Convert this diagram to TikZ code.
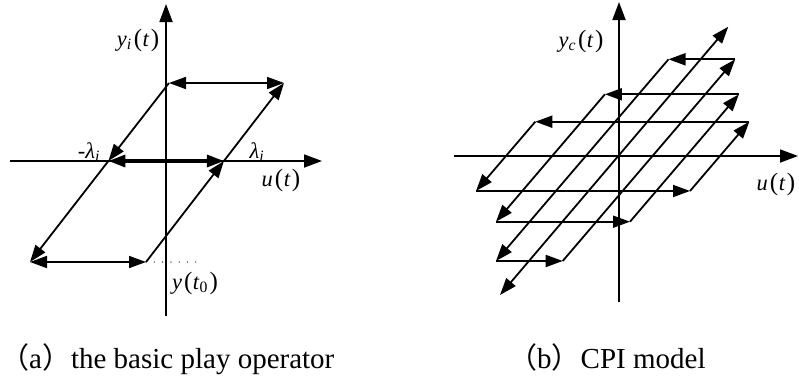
\documentclass[tikz,border=0pt]{standalone}
\usepackage{fontspec}
\setmainfont{Liberation Serif}
\newfontfamily\cjk{Noto Sans CJK SC}
\usetikzlibrary{arrows.meta}
\newcommand{\plp}{\kern2pt{\fontsize{25}{25}\selectfont(}\kern0.5pt}
\newcommand{\prp}{\kern1.5pt{\fontsize{25}{25}\selectfont)}}
\begin{document}
\begin{tikzpicture}[x=1pt,y=-1pt,
  ln/.style={line width=1.8pt},
  ar/.style={-{Triangle[length=17pt,width=12pt]}},
  axar/.style={-{Triangle[length=18pt,width=13pt]}},
  dar/.style={{Triangle[length=17pt,width=12pt]}-{Triangle[length=17pt,width=12pt]}},
  lab/.style={font=\fontsize{22.5}{27}\selectfont, inner sep=0pt},
  captxt/.style={font=\fontsize{29}{33}\selectfont, inner sep=0pt, anchor=base west}]
\useasboundingbox (0,0) rectangle (799,383);
% ---------- left diagram ----------
\coordinate (ya1) at (166,316); \coordinate (yb1) at (166,4);
\coordinate (xa1) at (10,161);  \coordinate (xb1) at (322,161);
\coordinate (TL) at (169,83);   \coordinate (TR) at (284,83);
\coordinate (BL) at (30,262);   \coordinate (BR) at (146,262);
\coordinate (L) at (108.4,161); \coordinate (R) at (223.9,161);
\coordinate (dotE) at (200,262);
\draw[ln,axar] (ya1) -- (yb1);
\draw[ln,axar] (xa1) -- (xb1);
\draw[line width=3.2pt,dar] (L) -- (R);
\draw[ln,dar] (TL) -- (TR);
\draw[ln,dar] (BL) -- (BR);
\draw[ln,ar] (TL) -- (L);
\draw[ln,ar] (L) -- (BL);
\draw[ln,ar] (BR) -- (R);
\draw[ln,ar] (R) -- (TR);
\draw[line width=1.3pt,line cap=round,dash pattern=on 0pt off 8.3pt] (BR) -- (dotE);
\node[lab] (lyi) at (138,40) {\textit{y}\textsubscript{\textit{i}}\plp\textit{t}\prp};
\node[lab] (lml) at (89,152) {-\textit{λ}\textsubscript{\textit{i}}};
\node[lab] (ll) at (257,152) {\textit{λ}\textsubscript{\textit{i}}};
\node[lab] (lu1) at (281,180) {\textit{u}\plp\textit{t}\prp};
\node[lab] (lyt) at (195,283) {\textit{y}\plp\textit{t}\textsubscript{0}\prp};
% ---------- right diagram ----------
\coordinate (ya2) at (619,302); \coordinate (yb2) at (619,2);
\coordinate (xa2) at (454,156); \coordinate (xb2) at (798,156);
\draw[ln,axar] (ya2) -- (yb2);
\draw[ln,axar] (xa2) -- (xb2);
\coordinate (aTL) at (535.3,121.7); \coordinate (aTR) at (749.3,121.7);
\coordinate (aBL) at (476,191);     \coordinate (aBR) at (690,191);
\coordinate (bTL) at (604.9,94.3);  \coordinate (bTR) at (738.9,94.3);
\coordinate (bBL) at (496,221.7);   \coordinate (bBR) at (630,221.7);
\coordinate (cTL) at (668.5,59.3);  \coordinate (cTR) at (735.2,59.3);
\coordinate (cBL) at (496,261);     \coordinate (cBR) at (562.7,261);
\coordinate (dA) at (500,295);      \coordinate (dB) at (728.3,26.7);
\foreach \p in {a,b,c}{
  \draw[ln,ar] (\p TR) -- (\p TL);
  \draw[ln,ar] (\p TL) -- (\p BL);
  \draw[ln,ar] (\p BL) -- (\p BR);
  \draw[ln,ar] (\p BR) -- (\p TR);
}
\draw[ln,dar] (dA) -- (dB);
\node[lab] (lyc) at (581,41) {\textit{y}\textsubscript{\textit{c}}\plp\textit{t}\prp};
\node[lab] (lu2) at (776,184) {\textit{u}\plp\textit{t}\prp};
% ---------- captions ----------
\node[captxt] (capa) at (0,368) {{\cjk （}a{\cjk ）}the basic play operator};
\node[captxt] (capb) at (508,368) {{\cjk （}b{\cjk ）}CPI model};
\end{tikzpicture}
\end{document}
